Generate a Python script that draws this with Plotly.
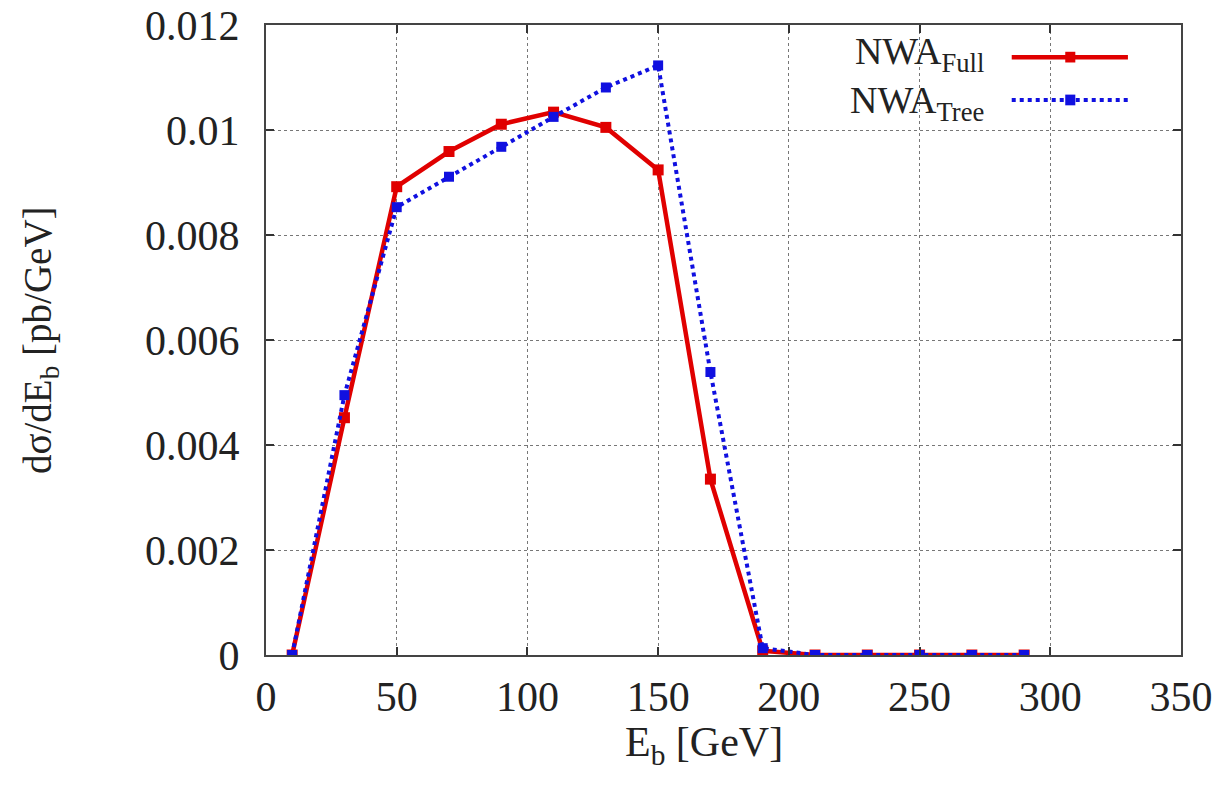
import plotly.graph_objects as go

energy = [10, 30, 50, 70, 90, 110, 130, 150, 170, 190, 210, 230, 250, 270, 290]
nwa_full = [0.0, 0.00452, 0.00892, 0.00959, 0.01011, 0.01034, 0.01005, 0.00924,
            0.00335, 0.00008, 0.0, 0.0, 0.0, 0.0, 0.0]
nwa_tree = [0.0, 0.00495, 0.00853, 0.00911, 0.00968, 0.01025, 0.01081, 0.01123,
            0.00539, 0.00013, 0.0, 0.0, 0.0, 0.0, 0.0]

x_ticks = [0, 50, 100, 150, 200, 250, 300, 350]
y_ticks = [0, 0.002, 0.004, 0.006, 0.008, 0.010, 0.012]
y_ticktext = ["0", "0.002", "0.004", "0.006", "0.008", "0.01", "0.012"]

RED = "#e00000"
BLUE = "#1010e0"
FONT = "Liberation Serif"
TXT = "#222"

fig = go.Figure()
fig.add_trace(go.Scatter(x=energy, y=nwa_full, mode="lines+markers", name="NWA Full",
                         line=dict(color=RED, width=4.5),
                         marker=dict(symbol="square", size=11, color=RED),
                         showlegend=False))
fig.add_trace(go.Scatter(x=energy, y=nwa_tree, mode="lines+markers", name="NWA Tree",
                         line=dict(color=BLUE, width=4, dash="dot"),
                         marker=dict(symbol="square", size=10, color=BLUE),
                         showlegend=False))

axis_common = dict(showline=True, linecolor="#444", linewidth=2, mirror="allticks",
                   ticks="inside", ticklen=8, tickcolor="#333", tickwidth=2,
                   showgrid=True, gridcolor="#777", griddash="dot", gridwidth=1,
                   zeroline=False, automargin=False, ticklabeloverflow="allow",
                   tickfont=dict(family=FONT, size=42, color=TXT))

fig.update_xaxes(range=[0, 350], tickvals=x_ticks, ticklabelstandoff=4, **axis_common)
fig.update_yaxes(range=[0, 0.012], tickvals=y_ticks, ticktext=y_ticktext,
                 ticklabelstandoff=16, **axis_common)

# axis titles
fig.add_annotation(xref="paper", yref="paper", x=0.479, y=-0.143, text="E<sub>b</sub> [GeV]",
                   showarrow=False, xanchor="center", yanchor="middle",
                   font=dict(family=FONT, size=42, color=TXT))
fig.add_annotation(xref="paper", yref="paper", x=-0.247, y=0.5, text="dσ/dE<sub>b</sub> [pb/GeV]",
                   showarrow=False, xanchor="center", yanchor="middle", textangle=-90,
                   font=dict(family=FONT, size=39, color=TXT))

# legend (gnuplot style: text left, sample right)
fig.add_annotation(xref="paper", yref="paper", x=0.787, y=0.915,
                   text="NWA<sub>Full</sub><br>NWA<sub>Tree</sub>",
                   showarrow=False, xanchor="right", yanchor="middle", align="right",
                   font=dict(family=FONT, size=38, color=TXT))
legend_rows = [(0.949, RED, "solid", 4.5), (0.881, BLUE, "dot", 4)]
for yp, col, dash, w in legend_rows:
    fig.add_shape(type="line", xref="paper", yref="paper", x0=0.815, x1=0.942, y0=yp, y1=yp,
                  line=dict(color=col, width=w, dash=dash))
    fig.add_shape(type="rect", xref="paper", yref="paper", x0=0.8735, x1=0.8845,
                  y0=yp - 0.0085, y1=yp + 0.0085, fillcolor=col, line=dict(width=0))

fig.update_layout(width=1206, height=771, margin=dict(l=258, r=33, t=17, b=124),
                  paper_bgcolor="white", plot_bgcolor="white",
                  font=dict(family=FONT))

fig.write_html("out.html")
